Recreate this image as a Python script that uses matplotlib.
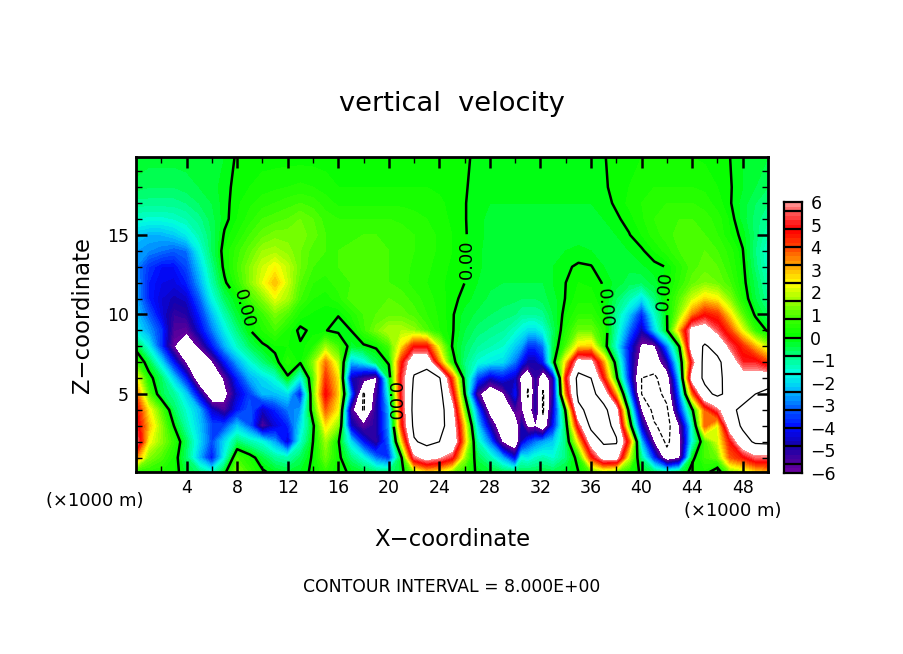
import numpy as np
import matplotlib
matplotlib.use("Agg")
import matplotlib.pyplot as plt
from matplotlib.colors import LinearSegmentedColormap

# grid, km (a bit finer around the x=31-32 twin cells)
x_km = list(range(0, 31)) + [30.5, 31.0, 31.6, 32.2] + list(range(33, 51))
z_km = [19.9, 18, 17, 16, 15, 14, 13, 12, 11, 10, 9, 8, 7, 6, 5, 4, 3, 2, 1, 0.1]

# one row per height, top of the plot first
w_z199 = [-.2,-.3,-.3,-.3,-.3,-.3,-.2,-.2,.05,.08, .1,.1,.1,.1,.1,.1,.1,.1,.1,.1, .1,.1,.1,.1,.1,.08,.04,-.05,-.1,-.1,-.1, -.1,-.1,-.1,-.1, -.1,-.1,-.1,-.1,-.02,.1,.15,.2,.2,.2,.2,.2,.15,.05,0,-.2,-.3,-.4]
w_z18 = [-.5,-.6,-.6,-.6,-.5,-.4,-.3,-.1,.1,.2, .3,.35,.4,.45,.4,.3,.2,.2,.2,.2, .2,.2,.2,.2,.15,.1,.03,-.1,-.15,-.15,-.15, -.15,-.15,-.15,-.15, -.15,-.15,-.15,-.15,-.05,.1,.2,.3,.4,.4,.4,.4,.35,.2,.03,-.2,-.4,-.6]
w_z17 = [-.9,-.9,-.9,-.9,-.8,-.6,-.4,-.1,.15,.35, .5,.6,.7,.8,.7,.5,.35,.35,.35,.35, .35,.35,.3,.3,.25,.12,.02,-.15,-.2,-.2,-.2, -.2,-.2,-.2,-.2, -.2,-.2,-.2,-.2,-.1,.05,.25,.4,.5,.6,.6,.6,.5,.3,.03,-.3,-.6,-.8]
w_z16 = [-1.4,-1.5,-1.5,-1.4,-1.2,-.9,-.5,-.1,.2,.5, .8,.9,1.0,1.2,1.0,.7,.6,.6,.6,.6, .6,.55,.5,.4,.3,.15,.02,-.15,-.25,-.25,-.25, -.25,-.25,-.25,-.25, -.25,-.25,-.25,-.25,-.2,-.05,.1,.35,.6,.75,.8,.8,.7,.5,.15,-.3,-.7,-1.0]
w_z15 = [-2.2,-2.4,-2.4,-2.2,-1.8,-1.2,-.6,.05,.4,.8, 1.1,1.3,1.3,1.3,1.1,.8,.7,.7,.8,.8, .8,.7,.6,.5,.35,.2,.03,-.15,-.25,-.25,-.25, -.25,-.25,-.25,-.25, -.25,-.3,-.3,-.3,-.3,-.2,-.02,.2,.5,.7,.9,.9,.8,.6,.2,-.1,-.7,-1.2]
w_z14 = [-2.6,-2.8,-3.0,-3.2,-3.0,-1.7,-.6,.2,.7,1.1, 1.6,1.7,1.5,1.2,.9,.8,.8,.9,.9,.9, .8,.7,.6,.5,.35,.2,.05,-.15,-.3,-.3,-.3, -.3,-.3,-.3,-.3, -.3,-.2,-.15,-.2,-.3,-.3,-.2,-.05,.2,.5,.8,1.0,1.0,.8,.5,.02,-.8,-1.5]
w_z13 = [-2.8,-3.6,-4.0,-4.0,-3.4,-2.2,-.9,.15,.8,1.4, 2.0,2.4,1.9,1.2,.8,.7,.8,.9,.9,.9, .8,.7,.55,.45,.3,.15,.03,-.15,-.3,-.35,-.35, -.35,-.35,-.35,-.35, -.2,-.05,.05,.02,-.2,-.35,-.35,-.25,-.1,.02,.5,.9,1.1,1.0,.6,.1,-.7,-1.4]
w_z12 = [-2.6,-3.8,-4.2,-4.3,-3.8,-2.6,-1.2,-.1,.6,1.4, 2.2,3.0,2.0,1.0,.6,.5,.7,.8,.9,.9, .8,.7,.5,.4,.25,.12,0,-.2,-.35,-.4,-.4, -.4,-.4,-.4,-.4, -.2,0,.2,.15,-.03,-.3,-.5,-.6,-.3,.05,.6,1.1,1.4,1.2,.8,.15,-.5,-1.2]
w_z11 = [-2.5,-3.8,-4.4,-4.7,-4.5,-3.2,-1.7,-.6,0,.8, 1.4,2.2,1.7,.8,.4,.3,.5,.9,1.0,1.0, 1.0,.9,.7,.5,.3,.1,-.1,-.3,-.45,-.5,-.55, -.6,-.6,-.6,-.5, -.3,.02,.3,.3,.02,-.6,-1.2,-2.0,-.8,.2,1.0,2.0,2.7,2.4,1.4,.3,-.4,-1.0]
w_z10 = [-2.2,-3.2,-4.3,-5.2,-5,-3.8,-2.4,-1.2,-.3,.1, .7,1.3,.9,.3,.15,.05,.02,.4,.8,1.0, 1.1,1.1,.9,.6,.35,.05,-.3,-.45,-.6,-.7,-.8, -1,-1,-1,-.9, -.4,.15,.6,.6,.15,-1,-2.2,-3.8,-1.5,-.02,1.5,3.5,4.6,4.2,2.6,1.0,-.1,-.6]
w_z9 = [-1.8,-2.6,-3.6,-5.6,-5.8,-4.4,-3,-1.8,-.8,-.02, .4,.8,.3,-.1,.1,.02,-.15,0,.7,1.3, 1.8,1.8,1.5,.9,.4,.05,-.4,-.7,-.85,-1,-1.4, -1.7,-2,-2,-1.6, -.6,.4,1.2,1.2,.5,-1.2,-3,-4.8,-2.2,-.1,3,6.5,6.8,5.4,4,2.2,.6,-.1]
w_z8 = [-.3,-1.7,-3.6,-6,-7.2,-5.8,-4,-2.5,-1.4,-.6, -.1,.15,.2,.05,.4,1.6,.8,-.3,-.1,.1, .8,2.6,4.6,4.6,2.0,0,-.6,-1,-1.2,-1.4,-2.2, -2.6,-3.6,-3.6,-3, -.5,.8,2.6,2.8,.5,-1.6,-4,-6.3,-6.3,-3,.1,7,8.2,7.4,5.4,4.3,3,1.8]
w_z7 = [.8,-.4,-2,-4,-6.3,-7.5,-6.2,-4,-2.6,-1.6, -.8,-.2,.5,.1,1.4,3.6,1.8,-2.4,-1.8,-.6, .1,4.4,7.2,7.2,3.5,.3,-.8,-1.5,-1.8,-2,-3, -4,-4.8,-4.8,-4, -.3,2.6,6.6,6.3,3.2,-.5,-4,-7,-7.2,-5,-1,5,8.8,8.4,7,5,5,4]
w_z6 = [2.5,.3,-.6,-2.2,-4,-7.5,-7.8,-5.8,-3.8,-2.5, -2,-1.5,-.1,-1.8,.9,4.2,2.6,-4.6,-5.5,-6.2, -.6,5,8.2,9,8.2,4,-.5,-3.4,-4.6,-4,-4.6, -6.5,-7.6,-5.2,-7.4, -5,4.5,8.7,8,4.5,.3,-3.8,-8,-8.3,-7,-2,6.6,8.4,8.5,7.2,6.8,6.8,7]
w_z5 = [3.8,1,-.5,-1,-2.2,-4.5,-7.5,-6.5,-4.5,-3.5, -2.4,-2.3,-2,-4,1,4.8,2.8,-3,-8.2,-5.5, -1.5,5,8.5,9.5,8.8,5.2,0,-5.5,-7.5,-6.3,-4, -6.4,-8.2,-5,-8.2, -5,3.5,8.5,8.6,7,3,-2.4,-8,-8.7,-7.5,-3,3.5,7.4,8.4,7.4,7,8,8.5]
w_z4 = [4.8,2.5,1,-.6,-1.5,-2.4,-4.5,-5.5,-4,-3.2, -4.6,-3.8,-3,-2.6,.6,3.8,2.4,-5.5,-8.2,-5, -2.4,4.6,8.7,9.5,8.9,6.5,1.2,-3,-6.8,-8,-5.5, -6,-7.2,-5,-8.2, -4.5,.2,7.5,8.7,8.6,6.5,-.4,-6.2,-8.6,-8.3,-4,-.2,3.8,5.4,7.5,8.5,8.6,9]
w_z3 = [5.2,3,1.5,0,-1.2,-2.2,-3.4,-3.4,-2.2,-3.2, -5.6,-4.4,-3.8,-2,-.2,2.6,1.4,-4.5,-5.8,-5, -2.6,4.2,8.5,9.2,8.7,7,2.6,-2,-4.8,-7.5,-7.6, -4.8,-6.4,-6.2,-7.5, -4,-.5,5,8.5,8.7,7.5,1,-4.5,-7.8,-8.7,-6,-1.5,3.8,2.2,6.8,8.3,9,9]
w_z2 = [6,2.4,1.5,.6,-.6,-2,-3.4,-2,-.7,-1.2, -1.6,-2.6,-4.5,-1.5,0,1.6,.1,-2,-4,-5.2, -3,2.4,7.8,8.5,8,7.5,3,-1.2,-3,-6.2,-7.5, -4.6,-3.6,-3,-2.6, -2.2,-.8,2.5,6.6,8.3,8.2,4,-2.4,-6.2,-8.4,-6.4,-1.6,.8,2,4.6,7.2,8.3,8.4]
w_z1 = [3.5,1.4,.9,.3,-.7,-2.4,-4,-1.6,.8,.3, -.4,-1,-1.2,-.6,.1,1.2,.2,-.8,-1.6,-3, -3.6,-.1,5.5,6.5,6,5,1.6,-.5,-1.2,-2.5,-4.4, -1.6,-1.8,-1.4,-1.2, -1.5,-.8,.3,4.2,6.5,6.5,2,-1,-3.8,-7.2,-6.2,-.2,.8,1.2,3.8,4.5,5.5,5.5]
w_z0 = [.5,.5,.4,.2,-.3,-.8,-1.5,-.2,1.4,.7, .1,-.2,-.4,-.2,.1,.6,.2,-.1,-.4,-.7, -.8,-.3,1.5,2.6,2.4,1.4,.5,-.1,-.3,-.5,-.7, -.5,-.5,-.5,-.4, -.5,-.3,0,1,1.6,1.2,.4,-.1,-.7,-1.2,-.7,.3,.3,-.5,1.3,1.8,2.6,3]

rows = [w_z199, w_z18, w_z17, w_z16, w_z15, w_z14, w_z13, w_z12, w_z11, w_z10,
        w_z9, w_z8, w_z7, w_z6, w_z5, w_z4, w_z3, w_z2, w_z1, w_z0]

x = np.array(x_km, dtype=float)
# 30.5 was listed after 30, keep the columns in x order
order = np.argsort(x, kind="stable")
x = x[order]
z = np.array(z_km, dtype=float)
w = np.array(rows)[:, order]

cb_ticks = list(range(-6, 7))
x_ticks = list(range(4, 49, 4))
y_ticks = [5, 10, 15]
label_spots = [(8.2, 10.2), (20.35, 4.5), (26.1, 13.5), (37.3, 10.4), (41.7, 11.5)]
label_rot = [-75, -90, 90, -85, 85]

pal = [(-6, (110, 0, 160)), (-5.6, (80, 0, 155)), (-4.8, (20, 0, 170)), (-4, (0, 10, 255)),
       (-3.2, (0, 90, 255)), (-2.4, (0, 185, 255)), (-1.6, (0, 255, 225)), (-.8, (0, 255, 130)),
       (0, (0, 255, 0)), (.8, (60, 255, 0)), (1.6, (150, 255, 0)), (2.4, (255, 255, 0)),
       (3.2, (255, 165, 0)), (4, (255, 70, 0)), (4.8, (255, 0, 0)), (5.6, (255, 90, 90)), (6, (255, 155, 155))]
cmap = LinearSegmentedColormap.from_list(
    "ncl", [((v + 6) / 12, (r / 255, g / 255, b / 255)) for v, (r, g, b) in pal], N=256)
cmap.set_over("white")
cmap.set_under("white")
levels = np.arange(-6, 6.01, 0.2)

plt.rcParams["font.family"] = "DejaVu Sans"
fig = plt.figure(figsize=(9.04, 6.54), dpi=100)
W, H = 904.0, 654.0
ax = fig.add_axes([136 / W, 1 - 472 / H, 632 / W, 315 / H])

ax.contourf(x, z, w, levels=levels, cmap=cmap, extend="both")
ax.contour(x, z, w, levels=[-8], colors="k", linewidths=0.9, linestyles="--")
ax.contour(x, z, w, levels=[8], colors="k", linewidths=0.9, linestyles="-")
zero = ax.contour(x, z, w, levels=[0], colors="k", linewidths=1.8)
labels = ax.clabel(zero, fmt="%.2f", fontsize=13, manual=label_spots)
for t, r in zip(labels, label_rot):
    t.set_rotation(r)

ax.set_xlim(0, 50)
ax.set_ylim(0.1, 19.9)
ax.set_xticks(x_ticks)
ax.set_xticks(range(2, 50, 2), minor=True)
ax.set_yticks(y_ticks)
ax.set_yticks(range(1, 20), minor=True)
ax.tick_params(which="major", direction="in", top=True, right=True, length=8, width=1.8,
               labelsize=12.5, pad=5)
ax.tick_params(which="minor", direction="in", top=True, right=True, length=4, width=1)
for s in ax.spines.values():
    s.set_linewidth(2)

# colour bar, black rules every 0.8 like the original
cax = fig.add_axes([784 / W, 1 - 473 / H, 18 / W, 271 / H])
cax.contourf([0, 1], levels, np.column_stack([levels, levels]), levels=levels, cmap=cmap)
cax.hlines(np.arange(-5.6, 5.7, 0.8), 0, 1, colors="k", linewidth=1.6)
cax.set_xticks([])
cax.yaxis.tick_right()
cax.set_yticks(cb_ticks)
cax.set_yticklabels([str(t).replace("-", "\u2212") for t in cb_ticks])
cax.tick_params(length=0, labelsize=12.5, pad=6)
for s in cax.spines.values():
    s.set_linewidth(1.6)

fig.text(452 / W, 1 - 104 / H, "vertical  velocity", ha="center", va="center", fontsize=19.6)
fig.text(452 / W, 1 - 540 / H, "X\u2212coordinate", ha="center", va="center", fontsize=16.4)
fig.text(83 / W, 1 - 315 / H, "Z\u2212coordinate", ha="center", va="center", fontsize=16.4, rotation=90)
fig.text(95 / W, 1 - 501 / H, "(\u00d71000 m)", ha="center", va="center", fontsize=12.9)
fig.text(733 / W, 1 - 511 / H, "(\u00d71000 m)", ha="center", va="center", fontsize=12.9)
fig.text(452 / W, 1 - 587 / H, "CONTOUR INTERVAL = 8.000E+00", ha="center", va="center", fontsize=12.4)

fig.savefig("out.png", dpi=100)
